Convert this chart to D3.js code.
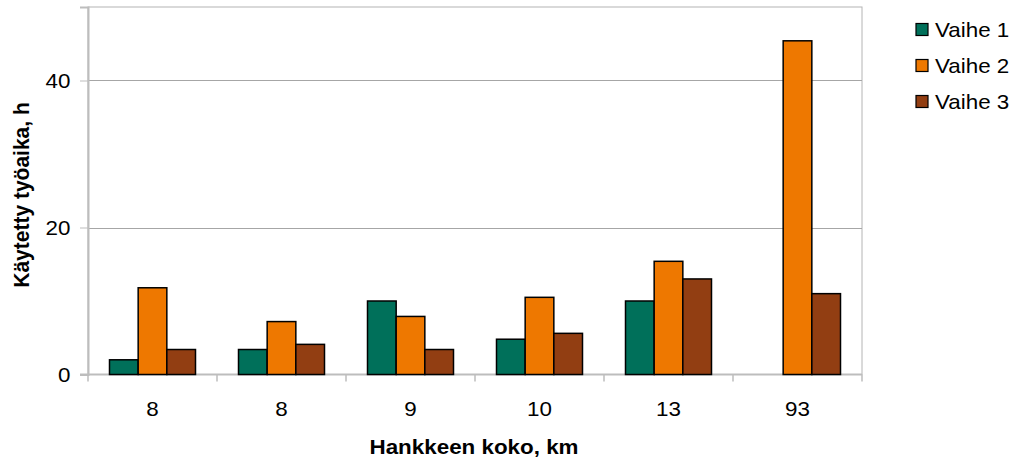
<!DOCTYPE html>
<html>
<head>
<meta charset="utf-8">
<script src="https://cdn.jsdelivr.net/npm/d3@7"></script>
<style>
  html, body { margin: 0; padding: 0; background: #fff; }
  svg { display: block; font-family: "Liberation Sans", Arial, sans-serif; }
</style>
</head>
<body>
<svg id="chart" width="1018" height="462"></svg>
<script>
// Project size categories (km) and working hours per phase
const categories = ["8", "8", "9", "10", "13", "93"];
const seriesNames = ["Vaihe 1", "Vaihe 2", "Vaihe 3"];
const vaihe1 = [2.0, 3.4, 10.0, 4.8, 10.0, 0];
const vaihe2 = [11.8, 7.2, 7.9, 10.5, 15.4, 45.4];
const vaihe3 = [3.4, 4.1, 3.4, 5.6, 13.0, 11.0];
const yTicks = [0, 20, 40];
const colors = ["#00705a", "#ee7800", "#923e12"];

const series = [vaihe1, vaihe2, vaihe3];

const svg = d3.select("#chart");
const plot = { left: 88, right: 862, top: 7, bottom: 374.5 };
const FS = 20;      // base font size
const SX = 1.12;    // horizontal widening of the lettering

const x = d3.scaleBand()
  .domain(d3.range(categories.length))
  .range([plot.left, plot.right])
  .paddingInner(0).paddingOuter(0);

const y = d3.scaleLinear().domain([0, 50]).range([plot.bottom, plot.top]);

// inner band for the three bars (gap of ~150% of bar width)
const barW = x.bandwidth() / 4.5;
const xs = d3.scaleBand().domain(d3.range(series.length))
  .range([0.75 * barW, 3.75 * barW]).padding(0);

// helper: place widened text at (px, py)
function wideText(sel, px, py) {
  return sel.attr("x", 0).attr("y", 0)
    .attr("transform", (d, i) => `translate(${typeof px === "function" ? px(d, i) : px},${typeof py === "function" ? py(d, i) : py}) scale(${SX},1)`);
}

// plot frame
svg.append("rect")
  .attr("x", plot.left).attr("y", plot.top)
  .attr("width", plot.right - plot.left).attr("height", plot.bottom - plot.top)
  .attr("fill", "none").attr("stroke", "#b4b4b4").attr("stroke-width", 1);

// horizontal gridlines
svg.append("g").selectAll("line")
  .data(yTicks.filter(d => d > 0))
  .join("line")
  .attr("x1", plot.left).attr("x2", plot.right)
  .attr("y1", d => Math.round(y(d)) + 0.5).attr("y2", d => Math.round(y(d)) + 0.5)
  .attr("stroke", "#a6a6a6").attr("stroke-width", 1);

// y axis
const yAxis = svg.append("g")
  .attr("transform", `translate(${plot.left},0)`)
  .call(d3.axisLeft(y).tickValues(yTicks).tickSize(8).tickFormat(d3.format("d")));
yAxis.attr("font-size", null).attr("font-family", null);
yAxis.select(".domain").attr("stroke", "#bdbdbd").attr("stroke-width", 2);
yAxis.selectAll(".tick line").attr("stroke", "#bdbdbd").attr("stroke-width", 1);
yAxis.selectAll(".tick text")
  .attr("font-size", FS).attr("fill", "#000")
  .attr("text-anchor", "end")
  .attr("dy", "0.36em")
  .call(wideText, -17.5, 0);

// x axis with ticks at category boundaries
const xAxisG = svg.append("g").attr("transform", `translate(0,${plot.bottom})`);
xAxisG.append("line")
  .attr("x1", plot.left - 8).attr("x2", plot.right)
  .attr("y1", 0).attr("y2", 0)
  .attr("stroke", "#bdbdbd").attr("stroke-width", 2);
xAxisG.selectAll("line.tk")
  .data(d3.range(categories.length + 1))
  .join("line").attr("class", "tk")
  .attr("x1", i => i < categories.length ? x(i) : plot.right)
  .attr("x2", i => i < categories.length ? x(i) : plot.right)
  .attr("y1", 0).attr("y2", 7)
  .attr("stroke", "#bdbdbd").attr("stroke-width", 1.5);
xAxisG.selectAll("text")
  .data(categories)
  .join("text")
  .attr("text-anchor", "middle")
  .attr("font-size", FS)
  .text(d => d)
  .call(wideText, (d, i) => x(i) + x.bandwidth() / 2, 41);

// bars
const groups = svg.append("g").selectAll("g")
  .data(categories.map((c, i) => i))
  .join("g")
  .attr("transform", i => `translate(${x(i)},0)`);

groups.selectAll("rect")
  .data(i => series.map((s, k) => ({ k, v: s[i] })).filter(d => d.v > 0))
  .join("rect")
  .attr("x", d => xs(d.k))
  .attr("width", xs.bandwidth())
  .attr("y", d => y(d.v))
  .attr("height", d => y(0) - y(d.v))
  .attr("fill", d => colors[d.k])
  .attr("stroke", "#000")
  .attr("stroke-width", 1.5);

// axis titles
svg.append("text")
  .attr("text-anchor", "middle")
  .attr("font-size", FS).attr("font-weight", "bold")
  .text("Hankkeen koko, km")
  .call(wideText, 474, 454);

svg.append("text")
  .attr("transform", `translate(29,195) rotate(-90) scale(1.05,${SX})`)
  .attr("text-anchor", "middle")
  .attr("font-size", FS).attr("font-weight", "bold")
  .text("Käytetty työaika, h");

// legend
const legend = svg.append("g").selectAll("g")
  .data(seriesNames)
  .join("g")
  .attr("transform", (d, i) => `translate(916,${23.5 + i * 36})`);
legend.append("rect")
  .attr("width", 12).attr("height", 12)
  .attr("fill", (d, i) => colors[i])
  .attr("stroke", "#000").attr("stroke-width", 1.2);
legend.append("text")
  .attr("dy", "0.36em")
  .attr("font-size", FS)
  .text(d => d)
  .call(wideText, 19, 6);
</script>
</body>
</html>
